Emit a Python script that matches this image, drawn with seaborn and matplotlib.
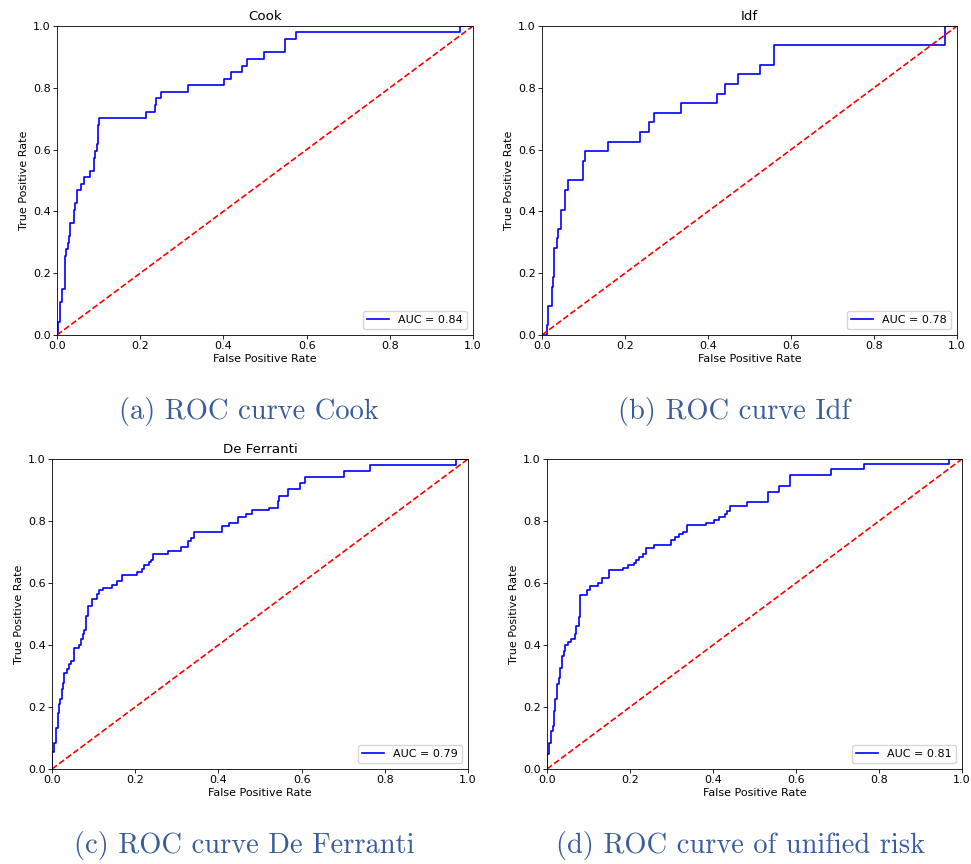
import matplotlib

matplotlib.use("Agg")
import matplotlib.pyplot as plt
import seaborn as sns

# ROC corner points (fpr, tpr)
COOK_FPR = [0.0, 0.002, 0.008, 0.012, 0.019, 0.022, 0.026, 0.029, 0.032, 0.041, 0.044, 0.047,
            0.058, 0.064, 0.080, 0.088, 0.092, 0.096, 0.098, 0.101, 0.215, 0.235, 0.239, 0.251,
            0.316, 0.401, 0.419, 0.445, 0.457, 0.497, 0.547, 0.574, 0.968, 1.0]
COOK_TPR = [0.0, 0.043, 0.106, 0.149, 0.255, 0.277, 0.298, 0.319, 0.362, 0.404, 0.426, 0.468,
            0.489, 0.511, 0.532, 0.574, 0.596, 0.617, 0.681, 0.702, 0.723, 0.745, 0.766, 0.787,
            0.809, 0.830, 0.851, 0.872, 0.894, 0.915, 0.957, 0.979, 1.0, 1.0]

IDF_FPR = [0.0, 0.011, 0.015, 0.024, 0.026, 0.028, 0.035, 0.039, 0.045, 0.056, 0.063, 0.098,
           0.103, 0.160, 0.237, 0.257, 0.269, 0.334, 0.422, 0.441, 0.473, 0.526, 0.560, 0.971, 1.0]
IDF_TPR = [0.0, 0.031, 0.094, 0.156, 0.188, 0.281, 0.313, 0.344, 0.406, 0.469, 0.500, 0.563,
           0.594, 0.625, 0.656, 0.688, 0.719, 0.750, 0.781, 0.813, 0.844, 0.875, 0.938, 1.0, 1.0]

DEF_FPR = [0.0, 0.0, 0.005, 0.010, 0.014, 0.017, 0.020, 0.024, 0.026, 0.030, 0.035, 0.040,
           0.046, 0.052, 0.066, 0.070, 0.074, 0.078, 0.082, 0.086, 0.096, 0.107, 0.113, 0.123,
           0.144, 0.156, 0.169, 0.205, 0.216, 0.220, 0.232, 0.237, 0.243, 0.279, 0.311, 0.326,
           0.334, 0.342, 0.409, 0.426, 0.447, 0.467, 0.481, 0.521, 0.544, 0.546, 0.568, 0.595,
           0.609, 0.703, 0.765, 0.972, 1.0]
DEF_TPR = [0.0, 0.054, 0.083, 0.132, 0.182, 0.211, 0.225, 0.257, 0.279, 0.311, 0.322, 0.340,
           0.348, 0.391, 0.400, 0.418, 0.434, 0.450, 0.493, 0.525, 0.547, 0.565, 0.576, 0.584,
           0.595, 0.606, 0.625, 0.636, 0.646, 0.657, 0.668, 0.675, 0.693, 0.704, 0.715, 0.734,
           0.745, 0.763, 0.783, 0.794, 0.813, 0.824, 0.834, 0.842, 0.863, 0.882, 0.902, 0.923,
           0.942, 0.960, 0.982, 1.0, 1.0]

UNI_FPR = [0.0, 0.0, 0.005, 0.010, 0.015, 0.017, 0.020, 0.024, 0.028, 0.032, 0.037, 0.041,
           0.044, 0.051, 0.059, 0.067, 0.071, 0.076, 0.080, 0.096, 0.103, 0.123, 0.133, 0.149,
           0.183, 0.195, 0.209, 0.214, 0.221, 0.231, 0.239, 0.258, 0.298, 0.308, 0.318, 0.328,
           0.338, 0.382, 0.402, 0.414, 0.428, 0.434, 0.440, 0.482, 0.533, 0.558, 0.585, 0.684,
           0.763, 0.968, 1.0]
UNI_TPR = [0.0, 0.048, 0.083, 0.121, 0.139, 0.188, 0.225, 0.273, 0.293, 0.327, 0.364, 0.380,
           0.400, 0.409, 0.418, 0.434, 0.461, 0.490, 0.560, 0.576, 0.590, 0.600, 0.616, 0.643,
           0.648, 0.657, 0.666, 0.675, 0.683, 0.693, 0.712, 0.723, 0.740, 0.750, 0.759, 0.766,
           0.786, 0.794, 0.804, 0.813, 0.824, 0.833, 0.849, 0.860, 0.894, 0.914, 0.948, 0.967,
           0.984, 1.0, 1.0]

AUCS = [0.84, 0.78, 0.79, 0.81]
TITLES = ["Cook", "Idf", "De Ferranti", ""]
CAPTIONS = ["(a) ROC curve Cook", "(b) ROC curve Idf",
            "(c) ROC curve De Ferranti", "(d) ROC curve of unified risk"]
DIAG = [0.0, 1.0]

W, H = 971, 864
# axes boxes in pixels: left, top, right, bottom
BOXES = [(57, 26, 473, 335), (542, 26, 957, 335), (52, 459, 468, 769), (547, 459, 962, 769)]
CAPTION_POS = [(249, 411), (734, 411), (244, 846), (741, 846)]
CAPTION_COLOR = "#3a5c9a"


def main() -> None:
    plt.rcParams.update({
        "font.size": 8,
        "axes.titlesize": 9.6,
        "axes.labelsize": 8,
        "xtick.labelsize": 8,
        "ytick.labelsize": 8,
        "legend.fontsize": 8,
        "axes.linewidth": 0.6,
        "xtick.major.width": 0.6,
        "ytick.major.width": 0.6,
        "xtick.major.size": 2.6,
        "ytick.major.size": 2.6,
    })

    fig = plt.figure(figsize=(W / 100, H / 100), dpi=100)
    curves = [(COOK_FPR, COOK_TPR), (IDF_FPR, IDF_TPR), (DEF_FPR, DEF_TPR), (UNI_FPR, UNI_TPR)]

    for (fpr, tpr), auc, title, box in zip(curves, AUCS, TITLES, BOXES):
        l, t, r, b = box
        ax = fig.add_axes([l / W, 1 - b / H, (r - l) / W, (b - t) / H])
        sns.lineplot(x=fpr, y=tpr, ax=ax, color="b", linewidth=1.2, drawstyle="steps-post",
                     estimator=None, sort=False, label=f"AUC = {auc:.2f}")
        ax.plot(DIAG, DIAG, "r--", linewidth=1.2)
        ax.set_xlim(0, 1)
        ax.set_ylim(0, 1)
        ax.set_xlabel("False Positive Rate", labelpad=2)
        ax.set_ylabel("True Positive Rate", labelpad=3)
        ax.tick_params(pad=2)
        if title:
            ax.set_title(title, pad=4)
        ax.legend(loc="lower right")

    for text, (x, y) in zip(CAPTIONS, CAPTION_POS):
        fig.text(x / W, 1 - y / H, text, ha="center", va="center", family="cmr10",
                 fontsize=20.5, color=CAPTION_COLOR)

    fig.savefig("out.png", dpi=100)
    plt.close(fig)


if __name__ == "__main__":
    main()
